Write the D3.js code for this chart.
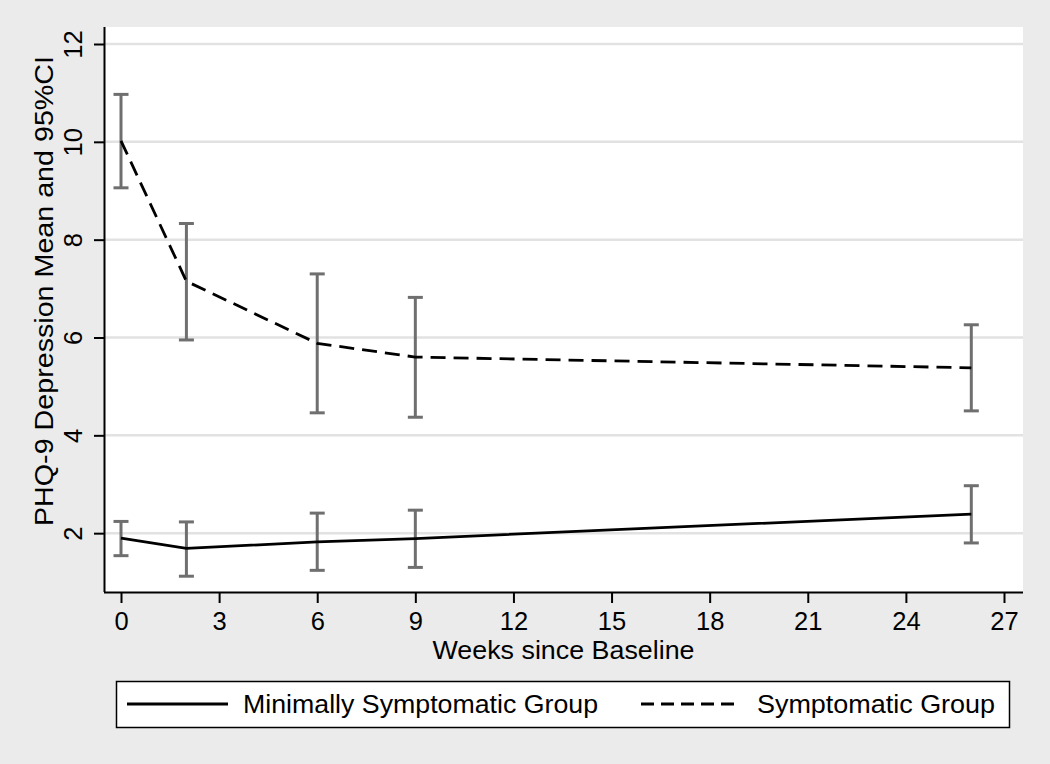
<!DOCTYPE html>
<html>
<head>
<meta charset="utf-8">
<script src="https://cdn.jsdelivr.net/npm/d3@7"></script>
<style>
  html, body { margin: 0; padding: 0; background: #ebebeb; }
  svg { display: block; font-family: "Liberation Sans", Arial, sans-serif; }
</style>
</head>
<body>
<div id="chart"></div>
<script>
// weeks measured
const weeks = [0, 2, 6, 9, 26];

// Minimally symptomatic group
const minMean = [1.90, 1.69, 1.82, 1.89, 2.39];
const minLo   = [1.54, 1.12, 1.24, 1.30, 1.80];
const minHi   = [2.24, 2.23, 2.41, 2.47, 2.97];

// Symptomatic group
const symMean = [10.02, 7.15, 5.88, 5.60, 5.38];
const symLo   = [9.06, 5.95, 4.46, 4.37, 4.50];
const symHi   = [10.97, 8.33, 7.30, 6.82, 6.26];

const xTicks = [0, 3, 6, 9, 12, 15, 18, 21, 24, 27];
const yTicks = [2, 4, 6, 8, 10, 12];

const seriesNames = ['Minimally Symptomatic Group', 'Symptomatic Group'];

const width = 1050, height = 764;
const plot = { left: 104, right: 1023, top: 27, bottom: 592 };
const fontSize = '25.5px';

const svg = d3.select('#chart').append('svg')
  .attr('width', width)
  .attr('height', height);

svg.append('rect')
  .attr('width', width).attr('height', height)
  .attr('fill', '#ebebeb');

// Scales
const x = d3.scaleLinear().domain([0, 27]).range([121, 1004]);
const y = d3.scaleLinear().domain([0, 12]).range([631, 44]);

// plot region
svg.append('rect')
  .attr('x', plot.left).attr('y', plot.top)
  .attr('width', plot.right - plot.left)
  .attr('height', plot.bottom - plot.top)
  .attr('fill', '#fff');

// gridlines
svg.append('g').selectAll('line')
  .data(yTicks)
  .join('line')
  .attr('x1', plot.left).attr('x2', plot.right)
  .attr('y1', d => y(d)).attr('y2', d => y(d))
  .attr('stroke', '#e2e2e2')
  .attr('stroke-width', 2.5);

// Y axis
const yAxis = svg.append('g')
  .attr('transform', `translate(${plot.left},0)`)
  .call(d3.axisLeft(y).tickValues(yTicks).tickSize(10).tickPadding(0));
yAxis.select('.domain').attr('d', `M0.5,${plot.top}V${plot.bottom}`)
  .attr('stroke', '#000').attr('stroke-width', 2);
yAxis.selectAll('.tick line').attr('stroke', '#000').attr('stroke-width', 2);
yAxis.selectAll('.tick text')
  .attr('x', 0).attr('y', 0)
  .attr('transform', 'translate(-22,0) rotate(-90)')
  .attr('text-anchor', 'middle')
  .attr('dy', 0)
  .attr('fill', '#000')
  .style('font-size', fontSize);

// X axis
const xAxis = svg.append('g')
  .attr('transform', `translate(0,${plot.bottom})`)
  .call(d3.axisBottom(x).tickValues(xTicks).tickSize(11).tickPadding(0));
xAxis.select('.domain').attr('d', `M${plot.left},0.5H${plot.right}`)
  .attr('stroke', '#000').attr('stroke-width', 2);
xAxis.selectAll('.tick line').attr('stroke', '#000').attr('stroke-width', 2);
xAxis.selectAll('.tick text')
  .attr('y', 38).attr('dy', 0)
  .attr('fill', '#000')
  .style('font-size', fontSize);

// Axis titles
svg.append('text')
  .attr('transform', `translate(53,291) rotate(-90)`)
  .attr('text-anchor', 'middle')
  .attr('textLength', 470)
  .attr('lengthAdjust', 'spacingAndGlyphs')
  .style('font-size', fontSize)
  .text('PHQ-9 Depression Mean and 95%CI');

svg.append('text')
  .attr('x', (plot.left + plot.right) / 2)
  .attr('y', 659)
  .attr('text-anchor', 'middle')
  .attr('textLength', 262)
  .attr('lengthAdjust', 'spacingAndGlyphs')
  .style('font-size', fontSize)
  .text('Weeks since Baseline');

// Error bars
function errorBars(lo, hi) {
  const g = svg.append('g')
    .attr('stroke', '#6f6f6f')
    .attr('stroke-width', 3);
  weeks.forEach((w, i) => {
    const cx = x(w);
    g.append('line').attr('x1', cx).attr('x2', cx).attr('y1', y(lo[i])).attr('y2', y(hi[i]));
    g.append('line').attr('x1', cx - 7.5).attr('x2', cx + 7.5).attr('y1', y(lo[i])).attr('y2', y(lo[i]));
    g.append('line').attr('x1', cx - 7.5).attr('x2', cx + 7.5).attr('y1', y(hi[i])).attr('y2', y(hi[i]));
  });
}
errorBars(symLo, symHi);
errorBars(minLo, minHi);

const line = d3.line()
  .x((d, i) => x(weeks[i]))
  .y(d => y(d));

svg.append('path')
  .datum(minMean)
  .attr('d', line)
  .attr('fill', 'none')
  .attr('stroke', '#000')
  .attr('stroke-width', 2.8);

svg.append('path')
  .datum(symMean)
  .attr('d', line)
  .attr('fill', 'none')
  .attr('stroke', '#000')
  .attr('stroke-width', 2.8)
  .attr('stroke-dasharray', '15,8');

// Legend
const legend = svg.append('g');
legend.append('rect')
  .attr('x', 116.5).attr('y', 681.5)
  .attr('width', 893).attr('height', 46)
  .attr('fill', '#fff')
  .attr('stroke', '#000')
  .attr('stroke-width', 1.5);

const legendItems = [
  { name: seriesNames[0], x1: 127, x2: 228, tx: 243, len: 355, dash: null },
  { name: seriesNames[1], x1: 641, x2: 740, tx: 757, len: 238, dash: '13,7' }
];
legendItems.forEach(d => {
  legend.append('line')
    .attr('x1', d.x1).attr('x2', d.x2)
    .attr('y1', 704).attr('y2', 704)
    .attr('stroke', '#000')
    .attr('stroke-width', 2.8)
    .attr('stroke-dasharray', d.dash);
  legend.append('text')
    .attr('x', d.tx).attr('y', 713)
    .attr('textLength', d.len)
    .attr('lengthAdjust', 'spacingAndGlyphs')
    .style('font-size', fontSize)
    .text(d.name);
});
</script>
</body>
</html>
